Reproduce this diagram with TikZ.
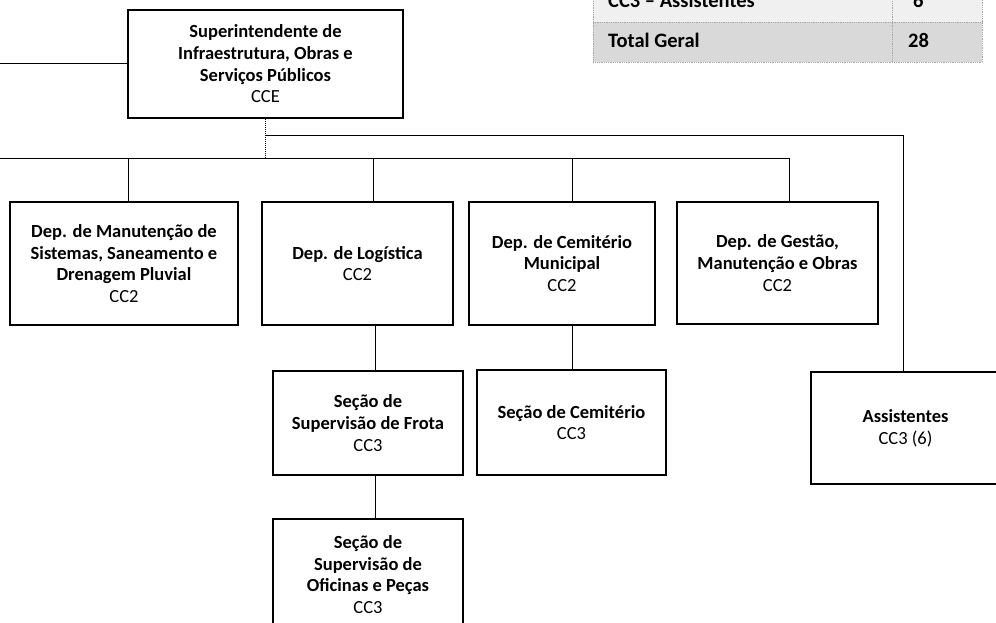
\documentclass[tikz,border=0pt]{standalone}
\usepackage{fontspec}
\setmainfont{Carlito}
\usetikzlibrary{calc}
\begin{document}
\begin{tikzpicture}[x=1pt,y=-1pt,
  box/.style={draw=black, line width=1.8pt, rectangle, inner sep=0pt, align=center,
    font=\fontsize{18.5}{21.7}\selectfont},
  conn/.style={draw=black, line width=1pt},
  tabtext/.style={anchor=base west, inner sep=0pt, font=\fontsize{20.5}{24}\selectfont\bfseries},
  tabline/.style={draw=gray!70, line width=0.8pt, densely dotted}
]
\useasboundingbox (0,0) rectangle (996,623);
\clip (0,0) rectangle (996,623);

% summary table (cropped at the top)
\fill[gray!12] (593,-6) rectangle (982,22);
\fill[gray!30] (593,22) rectangle (982,62);
\draw[tabline] (593,-6) -- (593,62) -- (982,62) -- (982,-6);
\draw[tabline] (593,22) -- (982,22);
\draw[tabline] (892,-6) -- (892,62);
\node[tabtext] (ta) at (608,8) {CC3 – Assistentes};
\node[tabtext] (tb) at (913,8) {6};
\node[tabtext] (tc) at (608,48) {Total Geral};
\node[tabtext] (td) at (908,48) {28};

% boxes
\node[box, line width=2.1pt, minimum width=275pt, minimum height=108pt] (cce) at (265.5,64)
  {\textbf{Superintendente de}\\\textbf{Infraestrutura, Obras e}\\\textbf{Serviços Públicos}\\CCE};
\node[box, minimum width=228pt, minimum height=123pt] (man) at (124,263.5)
  {\textbf{Dep. de Manutenção de}\\\textbf{Sistemas, Saneamento e}\\\textbf{Drenagem Pluvial}\\CC2};
\node[box, minimum width=191pt, minimum height=123pt] (log) at (357.5,263.5)
  {\textbf{Dep. de Logística}\\CC2};
\node[box, minimum width=186pt, minimum height=123pt] (cem) at (562,263.5)
  {\textbf{Dep. de Cemitério}\\\textbf{Municipal}\\CC2};
\node[box, minimum width=201pt, minimum height=122pt] (gest) at (777.5,263)
  {\textbf{Dep. de Gestão,}\\\textbf{Manutenção e Obras}\\CC2};
\node[box, minimum width=190pt, minimum height=104pt] (frota) at (368,423)
  {\textbf{Seção de}\\\textbf{Supervisão de Frota}\\CC3};
\node[box, minimum width=189pt, minimum height=105pt] (secem) at (571.5,422.5)
  {\textbf{Seção de Cemitério}\\CC3};
\node[box, minimum width=190pt, minimum height=111pt] (ofic) at (368,574.5)
  {\textbf{Seção de}\\\textbf{Supervisão de}\\\textbf{Oficinas e Peças}\\CC3};
\node[box, minimum width=189pt, minimum height=112pt] (assist) at (905.5,428)
  {\textbf{Assistentes}\\CC3 (6)};

% connector helpers
\coordinate (lft) at (0,64);
\coordinate (bl) at (0,159);
\coordinate (br) at (789,159);
\coordinate (k1) at (128,159);
\coordinate (k2) at (373,159);
\coordinate (k3) at (572,159);
\coordinate (tj) at (265.5,136);
\coordinate (ar) at (903,136);
\coordinate (v1) at (375,0);

% connectors
\draw[conn] (lft) -- (cce.west);
\draw[conn, densely dotted] (cce.south) -- (cce.south |- bl);
\draw[conn] (tj) -- (ar) -- (assist.north -| ar);
\draw[conn] (bl) -- (br) -- (gest.north -| br);
\draw[conn] (k1) -- (man.north -| k1);
\draw[conn] (k2) -- (log.north -| k2);
\draw[conn] (k3) -- (cem.north -| k3);
\draw[conn] (log.south -| v1) -- (frota.north -| v1);
\draw[conn] (frota.south -| v1) -- (ofic.north -| v1);
\draw[conn] (cem.south -| k3) -- (secem.north -| k3);
\end{tikzpicture}
\end{document}
